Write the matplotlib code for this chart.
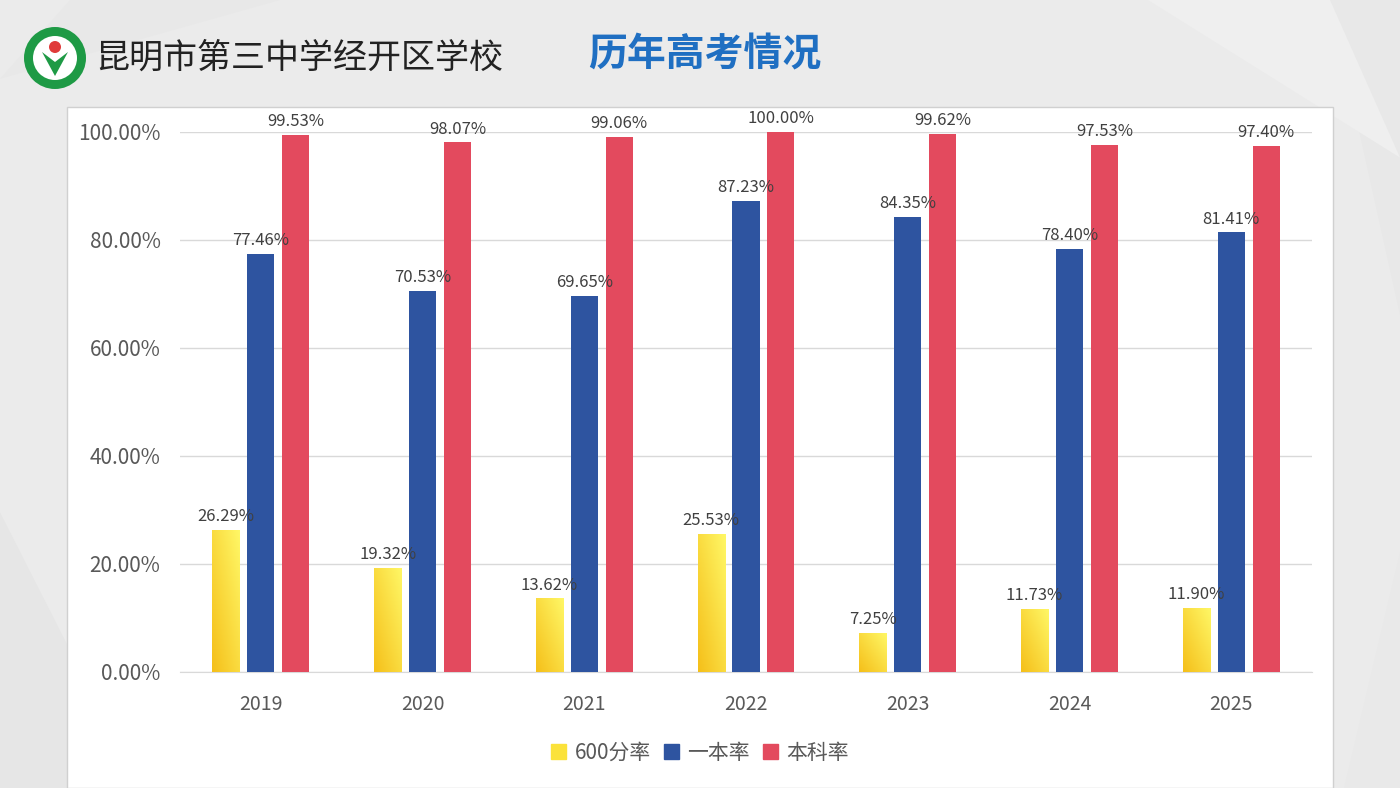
import matplotlib
matplotlib.use('Agg')
import matplotlib.pyplot as plt
import numpy as np
from matplotlib.patches import Rectangle, Circle, Polygon

plt.rcParams['font.family'] = ['Noto Sans CJK SC', 'DejaVu Sans']

years = ['2019', '2020', '2021', '2022', '2023', '2024', '2025']
rate_600 = [26.29, 19.32, 13.62, 25.53, 7.25, 11.73, 11.90]
rate_yiben = [77.46, 70.53, 69.65, 87.23, 84.35, 78.40, 81.41]
rate_benke = [99.53, 98.07, 99.06, 100.00, 99.62, 97.53, 97.40]
series_names = ['600分率', '一本率', '本科率']
yticks = [0, 20, 40, 60, 80, 100]

fig = plt.figure(figsize=(14, 7.88), dpi=100)
fig.patch.set_facecolor('#ebebeb')

# subtle background facets
bg = [
    [(0, 0), (0.10, 0), (0, 0.35)],
    [(0.95, 1), (1, 1), (1, 0.6)],
    [(0.82, 1), (0.95, 1), (1, 0.8)],
    [(0, 0.9), (0.05, 1), (0.2, 1)],
    [(0.96, 0), (1, 0), (1, 0.3)],
]
for pts, c in zip(bg, ['#e6e6e6', '#e8e8e8', '#efefef', '#e8e8e8', '#e9e9e9']):
    fig.patches.append(Polygon(pts, closed=True, transform=fig.transFigure,
                               facecolor=c, edgecolor='none', zorder=0))

# white chart panel
fig.patches.append(Rectangle((67 / 1400, 0), (1333 - 67) / 1400, (788 - 107) / 788,
                             transform=fig.transFigure, facecolor='white',
                             edgecolor='#d0d0d0', linewidth=1, zorder=1))

# logo
fig.patches.append(Circle((55, 788 - 58), 31, transform=None, facecolor='#1e9a45',
                          edgecolor='none', zorder=2))
fig.patches.append(Circle((55, 788 - 58), 22, transform=None, facecolor='white',
                          edgecolor='none', zorder=3))
fig.patches.append(Polygon([(42, 788 - 52), (55, 788 - 76), (68, 788 - 52), (55, 788 - 62)],
                           closed=True, transform=None, facecolor='#1e9a45',
                           edgecolor='none', zorder=4))
fig.patches.append(Circle((55, 788 - 47), 6, transform=None, facecolor='#e03a3a',
                          edgecolor='none', zorder=4))

fig.text(95 / 1400, 1 - 58 / 788, '昆明市第三中学经开区学校', fontsize=24.5,
         color='#222222', va='center', ha='left', zorder=5)
fig.text(588 / 1400, 1 - 55 / 788, '历年高考情况', fontsize=28, fontweight='bold',
         color='#1f6fc2', va='center', ha='left', zorder=5)

ax = fig.add_axes([180 / 1400, (788 - 672) / 788, (1312 - 180) / 1400, (672 - 132) / 788])
ax.set_facecolor('none')
ax.set_zorder(6)

x = np.arange(len(years))
w = 0.167
off = 0.216
b1 = ax.bar(x - off, rate_600, w, color='#fbe23a', zorder=3)
b2 = ax.bar(x, rate_yiben, w, color='#2e54a0', zorder=3)
b3 = ax.bar(x + off, rate_benke, w, color='#e34a5e', zorder=3)

# yellow gradient fill
grad = np.zeros((50, 50, 3))
gx, gy = np.meshgrid(np.linspace(0, 1, 50), np.linspace(0, 1, 50))
t = np.clip((gx + gy) / 2, 0, 1)
c0 = np.array([0.96, 0.75, 0.10])
c1 = np.array([1.0, 0.97, 0.40])
for k in range(3):
    grad[:, :, k] = c0[k] + (c1[k] - c0[k]) * t
for bar in b1:
    bx, by = bar.get_x(), bar.get_y()
    im = ax.imshow(grad, extent=[bx, bx + bar.get_width(), by, by + bar.get_height()],
                   origin='lower', aspect='auto', zorder=4)
    im.set_clip_path(bar)

for bars, vals in [(b1, rate_600), (b2, rate_yiben), (b3, rate_benke)]:
    for bar, v in zip(bars, vals):
        ax.text(bar.get_x() + bar.get_width() / 2, v + 0.9, f'{v:.2f}%',
                ha='center', va='bottom', fontsize=12, color='#404040',
                clip_on=False, zorder=5)

ax.set_xlim(-0.5, len(years) - 0.5)
ax.set_ylim(0, 100)
ax.set_yticks(yticks)
ax.set_yticklabels([f'{v:.2f}%' for v in yticks], fontsize=15, color='#595959')
ax.set_xticks(x)
ax.set_xticklabels(years, fontsize=14, color='#595959')
ax.tick_params(length=0, pad=14)
ax.tick_params(axis='x', pad=16)
ax.grid(axis='y', color='#d9d9d9', linewidth=1, zorder=0)
for s in ['top', 'right', 'left']:
    ax.spines[s].set_visible(False)
ax.spines['bottom'].set_color('#d9d9d9')

handles = [Rectangle((0, 0), 1, 1, color=c) for c in ['#fbe23a', '#2e54a0', '#e34a5e']]
fig.legend(handles, series_names, loc='center', bbox_to_anchor=(700 / 1400, 1 - 753 / 788),
           ncol=3, frameon=False, fontsize=15, handlelength=0.75, handleheight=0.75,
           handletextpad=0.4, columnspacing=0.6, labelcolor='#595959')

fig.savefig('out.png', dpi=100, facecolor=fig.get_facecolor())
